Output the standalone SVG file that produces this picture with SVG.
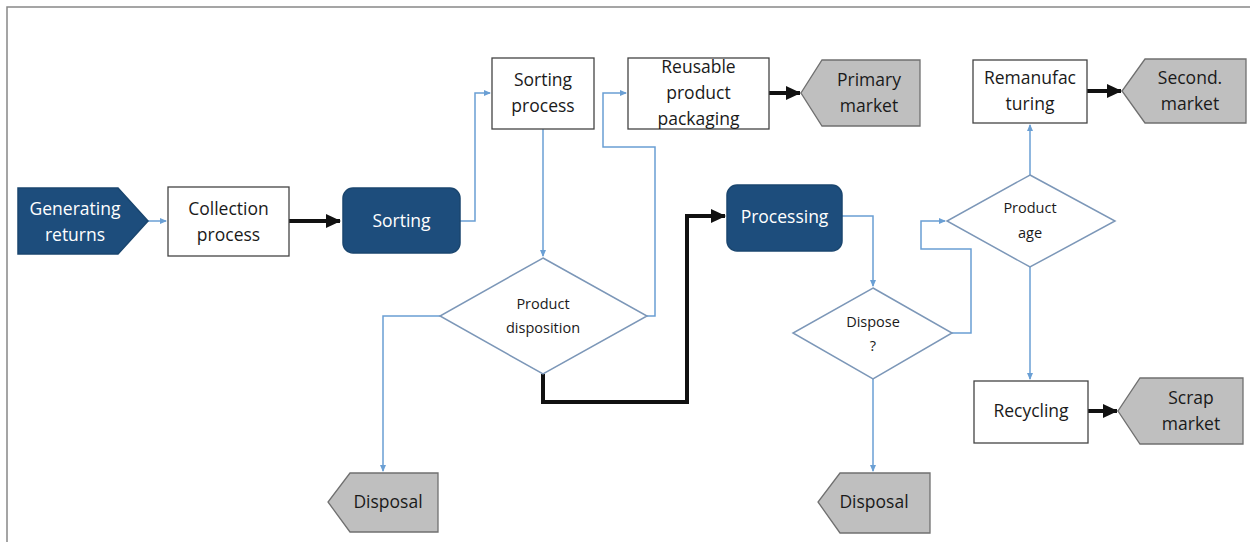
<svg xmlns="http://www.w3.org/2000/svg" width="1250" height="542" viewBox="0 0 1250 542">
<defs>
<style>
text{font-family:"Open Sans","Noto Sans","DejaVu Sans",sans-serif;text-anchor:middle;fill:#1a1a1a}
.lt{fill:#fff}
.dark{fill:#1d4d7c;stroke:#1a466f;stroke-width:1.5}
.box{fill:#fff;stroke:#444;stroke-width:1.3}
.gray{fill:#bfbfbf;stroke:#707070;stroke-width:1.3}
.dia{fill:#fff;stroke:#7c97b8;stroke-width:1.5}
.blue{fill:none;stroke:#6a9fd4;stroke-width:1.5}
.thick{fill:none;stroke:#111;stroke-width:4}
.f16{font-size:17.5px}
.f14{font-size:14.5px}
</style>
<marker id="ab" markerWidth="8" markerHeight="8" refX="6" refY="4" orient="auto" markerUnits="userSpaceOnUse">
<path d="M0,1 L7,4 L0,7 Z" fill="#6a9fd4"/>
</marker>
<marker id="ak" markerWidth="16" markerHeight="14" refX="14" refY="7" orient="auto" markerUnits="userSpaceOnUse">
<path d="M0,0 L15,7 L0,14 Z" fill="#111"/>
</marker>
</defs>
<rect x="0" y="0" width="1250" height="542" fill="#fff"/>
<path d="M7,542 V7 H1250" fill="none" stroke="#888" stroke-width="1.5"/>

<g id="connectors">
<path class="blue" d="M148,221 H166" marker-end="url(#ab)"/>
<path class="thick" d="M289,221 H340" marker-end="url(#ak)"/>
<path class="blue" d="M460,221 H475 V93 H490" marker-end="url(#ab)"/>
<path class="blue" d="M543,129 V256" marker-end="url(#ab)"/>
<path class="blue" d="M647,316 H655 V147 H603 V93 H626" marker-end="url(#ab)"/>
<path class="thick" d="M769,93 H800" marker-end="url(#ak)"/>
<path class="blue" d="M440,316 H383 V471" marker-end="url(#ab)"/>
<path class="thick" d="M543,374 V402 H687 V216 H725" marker-end="url(#ak)"/>
<path class="blue" d="M842,216 H873 V286" marker-end="url(#ab)"/>
<path class="blue" d="M952,333 H971 V249 H921 V221 H945" marker-end="url(#ab)"/>
<path class="blue" d="M1030,175 V125" marker-end="url(#ab)"/>
<path class="thick" d="M1087,91 H1121" marker-end="url(#ak)"/>
<path class="blue" d="M1030,267 V379" marker-end="url(#ab)"/>
<path class="thick" d="M1088,411 H1117" marker-end="url(#ak)"/>
<path class="blue" d="M873,379 V471" marker-end="url(#ab)"/>
</g>

<g id="generating-returns">
<path class="dark" d="M18,188 H118 L148,221 L118,254 H18 Z"/>
<text class="f16 lt" x="75" y="215">Generating</text>
<text class="f16 lt" x="75" y="241">returns</text>
</g>
<g id="collection-process">
<rect class="box" x="168" y="187" width="121" height="69"/>
<text class="f16" x="228.5" y="215">Collection</text>
<text class="f16" x="228.5" y="241">process</text>
</g>
<g id="sorting">
<rect class="dark" x="343" y="188" width="117" height="65" rx="10"/>
<text class="f16 lt" x="401.5" y="227">Sorting</text>
</g>
<g id="sorting-process">
<rect class="box" x="492" y="58" width="102" height="71"/>
<text class="f16" x="543" y="86">Sorting</text>
<text class="f16" x="543" y="112">process</text>
</g>
<g id="reusable-packaging">
<rect class="box" x="628" y="58" width="141" height="71"/>
<text class="f16" x="698.5" y="73">Reusable</text>
<text class="f16" x="698.5" y="99">product</text>
<text class="f16" x="698.5" y="125">packaging</text>
</g>
<g id="primary-market">
<path class="gray" d="M822,60 H920 V126 H822 L801,93 Z"/>
<text class="f16" x="869" y="86">Primary</text>
<text class="f16" x="869" y="112">market</text>
</g>
<g id="product-disposition">
<path class="dia" d="M543,258 L647,316 L543,374 L440,316 Z"/>
<text class="f14" x="543" y="309">Product</text>
<text class="f14" x="543" y="333">disposition</text>
</g>
<g id="disposal-1">
<path class="gray" d="M350,473 H438 V532 H350 L328,502 Z"/>
<text class="f16" x="388" y="508">Disposal</text>
</g>
<g id="processing">
<rect class="dark" x="727" y="185" width="115" height="66" rx="10"/>
<text class="f16 lt" x="784.5" y="223">Processing</text>
</g>
<g id="dispose">
<path class="dia" d="M873,288 L952,333 L873,379 L793,333 Z"/>
<text class="f14" x="873" y="327">Dispose</text>
<text class="f14" x="873" y="351">?</text>
</g>
<g id="product-age">
<path class="dia" d="M1030,175 L1115,221 L1030,267 L947,221 Z"/>
<text class="f14" x="1030" y="213">Product</text>
<text class="f14" x="1030" y="238">age</text>
</g>
<g id="remanufacturing">
<rect class="box" x="973" y="60" width="114" height="63"/>
<text class="f16" x="1030" y="84">Remanufac</text>
<text class="f16" x="1030" y="110">turing</text>
</g>
<g id="second-market">
<path class="gray" d="M1145,59 H1246 V123 H1145 L1122,91 Z"/>
<text class="f16" x="1190" y="84">Second.</text>
<text class="f16" x="1190" y="110">market</text>
</g>
<g id="recycling">
<rect class="box" x="974" y="381" width="114" height="62"/>
<text class="f16" x="1031" y="417">Recycling</text>
</g>
<g id="scrap-market">
<path class="gray" d="M1140,378 H1243 V444 H1140 L1118,411 Z"/>
<text class="f16" x="1191" y="404">Scrap</text>
<text class="f16" x="1191" y="430">market</text>
</g>
<g id="disposal-2">
<path class="gray" d="M840,473 H930 V533 H840 L818,502 Z"/>
<text class="f16" x="874" y="508">Disposal</text>
</g>
</svg>
